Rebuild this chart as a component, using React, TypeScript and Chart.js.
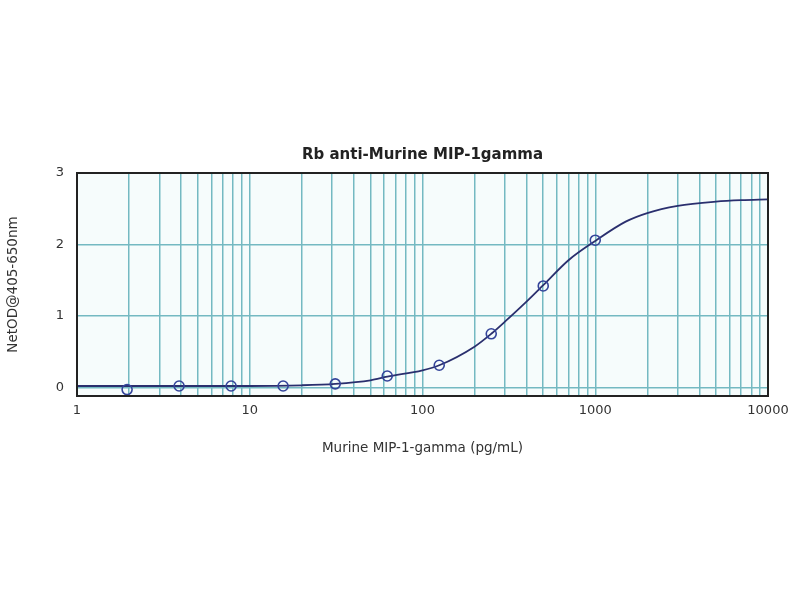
import { useEffect, useRef } from 'react';
import { Chart, registerables } from 'chart.js';

Chart.register(...registerables);

// standards (pg/mL) and measured OD
const concentrations = [1.95, 3.9, 7.8, 15.6, 31.25, 62.5, 125, 250, 500, 1000];
const netOD = [-0.03, 0.02, 0.02, 0.02, 0.05, 0.16, 0.31, 0.75, 1.42, 2.06];

// fitted curve
const fitX = [1, 5, 10, 20, 31.25, 50, 62.5, 100, 125, 200, 250, 300, 400, 500, 700, 1000, 1500, 2000, 3000, 5000, 7000, 10000];
const fitY = [0.02, 0.02, 0.02, 0.03, 0.05, 0.1, 0.15, 0.24, 0.31, 0.57, 0.75, 0.92, 1.2, 1.43, 1.78, 2.05, 2.32, 2.44, 2.54, 2.6, 2.62, 2.63];

const xTicks = [1, 2, 3, 4, 5, 6, 7, 8, 9, 10, 20, 30, 40, 50, 60, 70, 80, 90, 100, 200, 300, 400, 500, 600, 700, 800, 900, 1000, 2000, 3000, 4000, 5000, 6000, 7000, 8000, 9000, 10000];
const xLabels = [1, 10, 100, 1000, 10000];
const yTicks = [0, 1, 2, 3];

const chartTitle = 'Rb anti-Murine MIP-1gamma';
const grid = '#74b9c2';
const ink = '#222';
const font = '"DejaVu Sans", Arial, sans-serif';

// frame, plot background and a title centred over the plot area
const framePlugin = {
  id: 'frame',
  beforeDraw(chart: Chart) {
    const { ctx, chartArea: a } = chart;
    ctx.save();
    ctx.fillStyle = '#f6fcfc';
    ctx.fillRect(a.left, a.top, a.right - a.left, a.bottom - a.top);
    ctx.restore();
  },
  afterDatasetsDraw(chart: Chart) {
    const { ctx, chartArea: a } = chart;
    ctx.save();
    ctx.strokeStyle = ink;
    ctx.lineWidth = 2;
    ctx.strokeRect(a.left, a.top, a.right - a.left, a.bottom - a.top);
    ctx.fillStyle = ink;
    ctx.font = `bold 15px ${font}`;
    ctx.textAlign = 'center';
    ctx.textBaseline = 'middle';
    ctx.fillText(chartTitle, (a.left + a.right) / 2, a.top - 18);
    ctx.restore();
  },
};

export default function App() {
  const canvasRef = useRef<HTMLCanvasElement>(null);

  useEffect(() => {
    if (!canvasRef.current) return;
    const chart = new Chart(canvasRef.current, {
      type: 'line',
      data: {
        datasets: [
          {
            label: 'fit',
            data: fitX.map((x, i) => ({ x, y: fitY[i] })),
            borderColor: '#2a2f6e',
            borderWidth: 1.8,
            pointRadius: 0,
            cubicInterpolationMode: 'monotone',
            order: 2,
          },
          {
            label: 'standards',
            data: concentrations.map((x, i) => ({ x, y: netOD[i] })),
            showLine: false,
            borderColor: '#34449a',
            backgroundColor: 'rgba(0,0,0,0)',
            pointRadius: 5,
            pointBorderWidth: 1.6,
            order: 1,
          },
        ],
      },
      options: {
        animation: false,
        responsive: false,
        layout: { padding: { top: 173, left: 0, right: 32, bottom: 134 } },
        plugins: {
          legend: { display: false },
          tooltip: { enabled: false },
          title: { display: false },
        },
        scales: {
          x: {
            type: 'logarithmic',
            min: 1,
            max: 10000,
            afterBuildTicks: (s: any) => { s.ticks = xTicks.map((v) => ({ value: v })); },
            afterFit: (s: any) => { s.height = 70; },
            ticks: {
              color: '#333',
              font: { family: font, size: 13 },
              padding: 7,
              autoSkip: false,
              maxRotation: 0,
              callback: (v: any) => (xLabels.includes(Number(v)) ? String(v) : ''),
            },
            grid: { color: grid, lineWidth: 1.5, drawTicks: false },
            border: { display: false },
            title: {
              display: true,
              text: 'Murine MIP-1-gamma (pg/mL)',
              color: '#333',
              font: { family: font, size: 13.5 },
              padding: { top: 0, bottom: 9 },
            },
          },
          y: {
            min: -0.12,
            max: 3,
            afterBuildTicks: (s: any) => { s.ticks = yTicks.map((v) => ({ value: v })); },
            afterFit: (s: any) => { s.width = 77; },
            ticks: {
              color: '#333',
              font: { family: font, size: 13 },
              padding: 13,
            },
            grid: { color: grid, lineWidth: 1.5, drawTicks: false },
            border: { display: false },
            title: {
              display: true,
              text: 'NetOD@405-650nm',
              color: '#333',
              font: { family: font, size: 13.5 },
              padding: { top: 5, bottom: 0 },
            },
          },
        },
      },
      plugins: [framePlugin],
    });
    return () => { chart.destroy(); };
  }, []);

  return (
    <div style={{ position: 'fixed', left: 0, top: 0, width: 800, height: 600, background: '#fff' }}>
      <canvas ref={canvasRef} width={800} height={600} />
    </div>
  );
}
